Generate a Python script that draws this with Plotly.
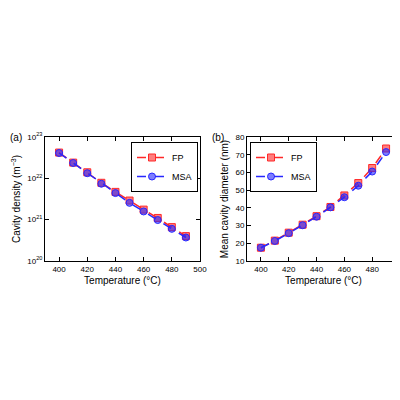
import plotly.graph_objects as go

temps = [400, 410, 420, 430, 440, 450, 460, 470, 480, 490]
dens_fp = [4.2e22, 2.4e22, 1.4e22, 7.8e21, 4.7e21, 2.9e21, 1.75e21, 1.1e21, 6.6e20, 4.0e20]
dens_msa = [4.1e22, 2.35e22, 1.33e22, 7.4e21, 4.4e21, 2.55e21, 1.58e21, 9.8e20, 6.0e20, 3.7e20]
diam_fp = [17.5, 21.5, 26, 30.5, 35.3, 40.5, 47, 54, 62.5, 73.5]
diam_msa = [17.5, 21.3, 25.7, 30.2, 35, 40.3, 46, 52.5, 60.5, 71.5]

fig = go.Figure()
red = "rgba(255,40,40,1)"
blue = "rgba(40,40,255,1)"

def add(x, y, xa, ya, name, color, sym):
    fig.add_trace(go.Scatter(x=x, y=y, xaxis=xa, yaxis=ya, name=name, showlegend=True,
        legend="legend" if xa == "x" else "legend2",
        mode="lines+markers", line=dict(color=color, dash="dash", width=1.5),
        marker=dict(symbol=sym, size=7, color=color.replace(",1)", ",0.6)"),
                    line=dict(color=color, width=1))))

add(temps, dens_fp, "x", "y", "FP", red, "square")
add(temps, dens_msa, "x", "y", "MSA", blue, "circle")
add(temps, diam_fp, "x2", "y2", "FP", red, "square")
add(temps, diam_msa, "x2", "y2", "MSA", blue, "circle")

ax = dict(showline=True, linecolor="black", linewidth=1, mirror="ticks", ticks="inside",
          ticklen=4, tickcolor="black", showgrid=False, zeroline=False, automargin=False,
          tickfont=dict(size=8, color="black"), title_font=dict(size=10, color="black"),
          title_standoff=4)
leg = dict(yanchor="top", bordercolor="black", borderwidth=1, font=dict(size=9, color="black"),
           bgcolor="white", tracegroupgap=0, itemwidth=30, tracegroupgap_=None) if False else None
fig.update_layout(
    width=400, height=400, plot_bgcolor="white", paper_bgcolor="white",
    margin=dict(l=0, r=0, t=0, b=0, autoexpand=False), font=dict(family="Liberation Sans", color="black"),
    xaxis=dict(ax, domain=[0.0925, 0.48], range=[390, 500], dtick=20, title_text="Temperature (°C)", anchor="y"),
    yaxis=dict(ax, domain=[0.3675, 0.6775], type="log", range=[20, 23],
               title_text="Cavity density (m<sup>−3</sup>)", anchor="x",
               tickvals=[1e20, 1e21, 1e22, 1e23], ticktext=["10<sup>20</sup>", "10<sup>21</sup>", "10<sup>22</sup>", "10<sup>23</sup>"]),
    xaxis2=dict(ax, domain=[0.5975, 0.98], range=[390, 500], dtick=20, title_text="Temperature (°C)", anchor="y2"),
    yaxis2=dict(ax, domain=[0.3675, 0.6775], range=[10, 80], dtick=10, title_text="Mean cavity diameter (nm)", anchor="x2"),
    legend=dict(x=0.475, y=0.665, xanchor="right", yanchor="top", bordercolor="black", borderwidth=1,
                font=dict(size=9, color="black"), bgcolor="white", itemwidth=30,
                tracegroupgap=0, entrywidth=0),
    legend2=dict(x=0.605, y=0.665, xanchor="left", yanchor="top", bordercolor="black", borderwidth=1,
                 font=dict(size=9, color="black"), bgcolor="white", itemwidth=30),
    annotations=[
        dict(text="(a)", x=0.0, y=0.675, xref="paper", yref="paper", showarrow=False, xanchor="left", yanchor="middle", font=dict(size=10)),
        dict(text="(b)", x=0.505, y=0.675, xref="paper", yref="paper", showarrow=False, xanchor="left", yanchor="middle", font=dict(size=10)),
    ],
)
fig.write_html("out.html")
